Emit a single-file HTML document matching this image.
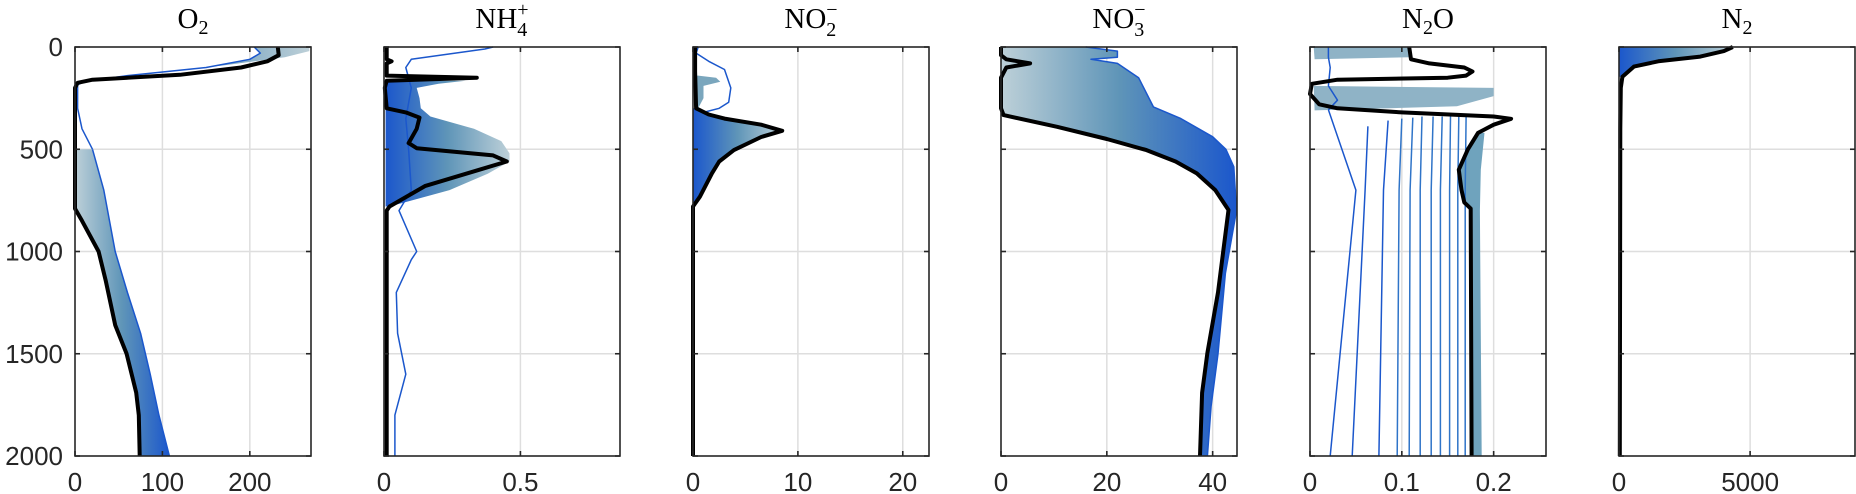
<!DOCTYPE html>
<html><head><meta charset="utf-8"><style>
html,body{margin:0;padding:0;background:#fff;}
svg{display:block;}
</style></head><body>
<svg id="fig" width="1856" height="494" viewBox="0 0 1856 494" xmlns="http://www.w3.org/2000/svg">
<defs>
<linearGradient id="gBL" x1="0" x2="1" y1="0" y2="0"><stop offset="0" stop-color="#1b57cc"/><stop offset="0.5" stop-color="#5f95b8"/><stop offset="1" stop-color="#bdd0d8"/></linearGradient>
<linearGradient id="gLB" x1="0" x2="1" y1="0" y2="0"><stop offset="0" stop-color="#bdd0d8"/><stop offset="0.5" stop-color="#5f95b8"/><stop offset="1" stop-color="#1b57cc"/></linearGradient>
</defs>
<g id="root"></g>
<g font-family="Liberation Serif, serif" font-size="29" fill="#000" text-anchor="middle">
<text x="193" y="28">O<tspan font-size="20" dy="6">2</tspan></text>
<text x="502" y="28">NH<tspan font-size="20" dy="8">4</tspan><tspan font-size="20" dx="-10" dy="-20">+</tspan></text>
<text x="811" y="28">NO<tspan font-size="20" dy="8">2</tspan><tspan font-size="20" dx="-10" dy="-20">−</tspan></text>
<text x="1119" y="28">NO<tspan font-size="20" dy="8">3</tspan><tspan font-size="20" dx="-10" dy="-20">−</tspan></text>
<text x="1428" y="28">N<tspan font-size="20" dy="6">2</tspan><tspan dy="-6">O</tspan></text>
<text x="1737" y="28">N<tspan font-size="20" dy="6">2</tspan></text>
</g>
</svg>
<script>
const depthTicks=[0,500,1000,1500,2000];
const panelTitles=["O2","NH4","NO2","NO3","N2O","N2"];
const xMaxes=[270,0.865,22.5,44.6,0.257,9000];
const xTicks=[[0,100,200],[0,0.5],[0,10,20],[0,20,40],[0,0.1,0.2],[0,5000]];
const xTickLabels=[["0","100","200"],["0","0.5"],["0","10","20"],["0","20","40"],["0","0.1","0.2"],["0","5000"]];

const o2Final=[[0,232],[40,233],[70,220],[100,190],[136,120],[160,20],[175,3],[200,0],[520,0],[790,0],[850,8],[1000,27],[1140,35],[1360,46],[1500,59],[1690,70],[1800,73],[2000,74]];
const o2FanTopBlue=[[0,205],[30,212],[60,200],[100,150],[140,60],[170,10],[185,3]];
const o2FanTopLight=[[0,268],[20,268],[50,240],[90,170],[130,80],[170,15],[185,3]];
const o2FanDeepEdge=[[500,20],[700,33],[1000,46],[1200,60],[1400,75],[1600,86],[1800,96],[2000,108]];
const o2MidLine=[[185,3],[300,3],[400,8],[500,20]];

const nh4Final=[[0,0.01],[60,0.01],[70,0.028],[80,0.01],[140,0.01],[150,0.34],[165,0.01],[200,0.003],[300,0.01],[320,0.08],[345,0.13],[400,0.12],[470,0.09],[495,0.12],[530,0.4],[560,0.45],[600,0.35],[680,0.15],[780,0.02],[800,0.01],[2000,0.01]];
const nh4FanLight=[[165,0.3],[180,0.2],[200,0.12],[250,0.13],[300,0.135],[340,0.17],[400,0.33],[460,0.43],[520,0.46],[560,0.46],[620,0.38],[700,0.24],[780,0.02]];
const nh4FirstRun=[[0,0.4],[10,0.37],[60,0.1],[100,0.08],[200,0.1],[350,0.08],[500,0.09],[700,0.1],[800,0.055],[1000,0.12],[1040,0.1],[1200,0.045],[1400,0.05],[1600,0.08],[1800,0.04],[2000,0.04]];

const no2Final=[[0,0.2],[120,0.2],[300,0.3],[330,1.5],[350,3],[380,6.5],[410,8.5],[440,6.5],[504,3.9],[560,2.5],[618,1.8],[732,0.66],[780,0],[2000,0]];
const no2FanPatch=[[140,0.5],[150,2.2],[170,2.6],[190,1],[250,1],[300,0.5]];
const no2FirstRun=[[0,0.5],[30,0.3],[70,1.5],[110,3],[200,3.6],[270,3.4],[300,2.5],[320,1]];

const no3Final=[[0,0],[40,0],[60,1],[80,5.5],[100,1],[150,0],[200,0],[300,0],[333,0.5],[390,10.6],[450,20],[504,27.5],[560,33],[618,37],[700,40.5],[797,43],[1000,42],[1200,41],[1496,39],[1691,38],[2000,37.6]];
const no3FanEdge=[[0,16],[20,22],[50,22],[60,17],[80,22],[150,26],[293,28.8],[350,34],[439,40],[500,42.5],[586,44],[800,44.5],[1106,42.4],[1500,41],[1756,39.7],[2000,39]];

const n2oFinal=[[0,0.108],[60,0.11],[80,0.13],[100,0.168],[120,0.177],[140,0.17],[150,0.15],[160,0.03],[180,0.002],[230,0],[280,0.01],[300,0.03],[320,0.1],[340,0.2],[351,0.219],[380,0.2],[420,0.183],[500,0.172],[600,0.162],[700,0.165],[760,0.168],[790,0.175],[2000,0.176]];
const n2oRunStart=[307,388,360,350,345,340,340,340,340,340,340];
const n2oRunTop=[0.02,0.063,0.085,0.1,0.112,0.122,0.134,0.144,0.153,0.162,0.17];
const n2oRunMid=[0.05,0.06,0.08,0.097,0.109,0.12,0.132,0.142,0.152,0.161,0.169];
const n2oRunBottom=[0.022,0.046,0.075,0.095,0.108,0.12,0.132,0.142,0.152,0.161,0.169];
const n2oFirstRunUpper=[[0,0.02],[50,0.02],[100,0.022],[190,0.02],[260,0.03],[307,0.02]];
const n2oFanDeep=[[420,0.19],[600,0.186],[800,0.185],[2000,0.187]];
const n2oBand1=[[0,0.004],[0,0.11],[50,0.108],[60,0.005]];
const n2oBand2=[[190,0.004],[200,0.2],[240,0.2],[290,0.16],[310,0.005]];

const n2Final=[[0,4340],[20,4000],[47,3100],[70,1500],[96,570],[145,130],[200,70],[400,50],[2000,30]];

const root=document.getElementById('root');
const NS="http://www.w3.org/2000/svg";
const TOP=47, BOT=456, W=236;
const lefts=[75,384,693,1001,1310,1619];
function el(tag,attrs,parent){const e=document.createElementNS(NS,tag);for(const k in attrs)e.setAttribute(k,attrs[k]);(parent||root).appendChild(e);return e;}
function ys(d){return TOP+(d/2000)*(BOT-TOP);}
function mkX(i){return v=>lefts[i]+(v/xMaxes[i])*W;}
function path(pts,xs){return pts.map((p,k)=>(k?'L':'M')+xs(p[1]).toFixed(1)+' '+ys(p[0]).toFixed(1)).join(' ');}
function line(g,pts,xs,stroke,w,name){const p=el('path',{d:path(pts,xs),fill:'none',stroke:stroke,'stroke-width':w,'stroke-linejoin':'round'},g);


return p;}
function poly(g,a,b,xs,fill,name){const pts=a.concat(b.slice().reverse());const p=el('path',{d:path(pts,xs)+' Z',fill:fill,stroke:'none'},g);


return p;}

const BLUE='#1b57cc', BLACK='#000';
for(let i=0;i<6;i++){
  const xs=mkX(i);
  const g=el('g',{});
  
  
  xTicks[i].forEach(t=>{if(t>0){const l=el('line',{x1:xs(t),x2:xs(t),y1:TOP,y2:BOT,stroke:'#dedede','stroke-width':1.5},g);
    
    }});
  depthTicks.forEach(t=>{if(t>0&&t<2000){const l=el('line',{x1:lefts[i],x2:lefts[i]+W,y1:ys(t),y2:ys(t),stroke:'#dedede','stroke-width':1.5},g);
    
    }});
  if(i===0){
    poly(g,o2FanTopBlue,o2FanTopLight,xs,'url(#gBL)','o2-ensemble-upper');
    line(g,o2FanTopBlue,xs,BLUE,1.5,'o2-first-run-upper');
    line(g,o2MidLine,xs,BLUE,1.5,'o2-first-run-mid');
    const left=o2Final.filter(p=>p[0]>=500);
    poly(g,[[500,0]].concat(left.slice(1)),o2FanDeepEdge,xs,'url(#gLB)','o2-ensemble-deep');
    line(g,o2FanDeepEdge,xs,BLUE,1.5,'o2-first-run-deep');
    line(g,o2Final,xs,BLACK,4,'o2-final-profile');
  } else if(i===1){
    const base=nh4FanLight.map(p=>[p[0],0.006]);
    poly(g,base,nh4FanLight,xs,'url(#gBL)','nh4-ensemble');
    line(g,nh4FirstRun,xs,BLUE,1.5,'nh4-first-run');
    line(g,nh4Final,xs,BLACK,4,'nh4-final-profile');
  } else if(i===2){
    const f=no2Final.filter(p=>p[0]>=300&&p[0]<=780);
    poly(g,f.map(p=>[p[0],0]),f,xs,'url(#gBL)','no2-ensemble');
    poly(g,no2FanPatch.map(p=>[p[0],0.3]),no2FanPatch,xs,'#7aa6bd','no2-ensemble-upper');
    line(g,no2FirstRun,xs,BLUE,1.5,'no2-first-run');
    line(g,no2Final,xs,BLACK,4,'no2-final-profile');
  } else if(i===3){
    const f=no3Final.filter(p=>p[0]>=300);
    const leftEdge=[[0,0]].concat(f);
    poly(g,leftEdge,no3FanEdge,xs,'url(#gLB)','no3-ensemble');
    line(g,no3FanEdge,xs,BLUE,1.5,'no3-first-run');
    line(g,no3Final,xs,BLACK,4,'no3-final-profile');
  } else if(i===4){
    const b1=el('path',{d:path(n2oBand1,xs)+' Z',fill:'#8fb3c6'},g);
    
    
    const b2=el('path',{d:path(n2oBand2,xs)+' Z',fill:'#8fb3c6'},g);
    
    
    poly(g,n2oFinal.filter(p=>p[0]>=420),n2oFanDeep,xs,'#6fa3bd','n2o-ensemble-deep');
    for(let k=0;k<n2oRunTop.length;k++){
      const pts=[[n2oRunStart[k],n2oRunTop[k]],[700,n2oRunMid[k]],[2000,n2oRunBottom[k]]];
      line(g,pts,xs,k<3?BLUE:'#2f74c8',1.5,'n2o-run-line');
    }
    line(g,n2oFirstRunUpper,xs,BLUE,1.5,'n2o-first-run-upper');
    line(g,n2oFinal,xs,BLACK,4,'n2o-final-profile');
  } else {
    const f=n2Final.filter(p=>p[0]<=145);
    poly(g,f.map(p=>[p[0],0]),f,xs,'url(#gBL)','n2-ensemble');
    line(g,n2Final,xs,BLACK,4,'n2-final-profile');
  }
  const box=el('rect',{x:lefts[i],y:TOP,width:W,height:BOT-TOP,fill:'none',stroke:'#262626','stroke-width':1.6},g);
  
  
  depthTicks.forEach(t=>{
    el('line',{x1:lefts[i],x2:lefts[i]+5,y1:ys(t),y2:ys(t),stroke:'#262626','stroke-width':1.6},g);
    el('line',{x1:lefts[i]+W-5,x2:lefts[i]+W,y1:ys(t),y2:ys(t),stroke:'#262626','stroke-width':1.6},g);
    if(i===0){const tx=el('text',{x:lefts[0]-12,y:ys(t)+9,'text-anchor':'end','font-family':'Liberation Sans, sans-serif','font-size':26,fill:'#262626'},g);
      tx.textContent=String(t);
      
      }
  });
  xTicks[i].forEach((t,k)=>{
    el('line',{x1:xs(t),x2:xs(t),y1:BOT,y2:BOT-5,stroke:'#262626','stroke-width':1.6},g);
    el('line',{x1:xs(t),x2:xs(t),y1:TOP,y2:TOP+5,stroke:'#262626','stroke-width':1.6},g);
    const tx=el('text',{x:xs(t),y:491,'text-anchor':'middle','font-family':'Liberation Sans, sans-serif','font-size':26,fill:'#262626'},g);
    tx.textContent=xTickLabels[i][k];
    
    
  });
}
</script>
</body></html>
